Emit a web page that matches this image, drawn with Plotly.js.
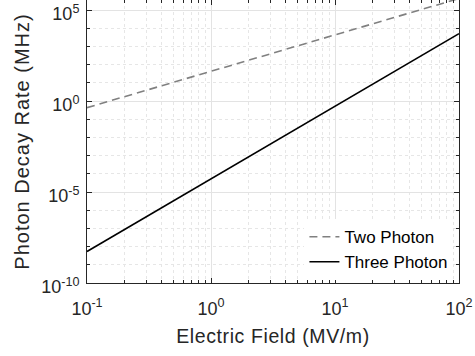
<!DOCTYPE html>
<html>
<head>
<meta charset="utf-8">
<script src="https://cdn.plot.ly/plotly-3.0.1.min.js"></script>
<style>
html,body{margin:0;padding:0;background:#fff;}
#chart{width:475px;height:356px;}
#chart .xtitle{letter-spacing:0.6px;}
#chart .ytitle{letter-spacing:1px;}
</style>
</head>
<body>
<div id="chart"></div>
<script>
// Data (log-log straight lines)
const fieldMVm = [0.1, 1, 10, 100];
const twoPhoton = [0.43, 43, 4300, 430000];
const threePhoton = [5.4e-9, 5.4e-5, 0.54, 5000];
const seriesNames = ['Two Photon', 'Three Photon'];

const xTickVals = [0.1, 1, 10, 100];
const xTickText = ['10<sup>-1</sup>', '10<sup>0</sup>', '10<sup>1</sup>', '10<sup>2</sup>'];
const yTickVals = [1e-10, 1e-5, 1, 1e5];
const yTickText = ['10<sup>-10</sup>', '10<sup>-5</sup>', '10<sup>0</sup>', '10<sup>5</sup>'];

const xMinor = [];
for (let e = -1; e < 2; e++) for (let d = 2; d <= 9; d++) xMinor.push(d * Math.pow(10, e));
const yMinor = [];
for (let e = -10; e <= 5; e++) if (e % 5 !== 0) yMinor.push(Math.pow(10, e));

const fam = 'Liberation Sans, Arial, sans-serif';
const tickFont = {family: fam, size: 18, color: '#262626'};
const xTitleFont = {family: fam, size: 19.5, color: '#262626'};
const yTitleFont = {family: fam, size: 20, color: '#262626'};
const legendFont = {family: fam, size: 17, color: '#000'};
const axisCommon = {
  type: 'log', showline: true, linecolor: '#262626', linewidth: 1, mirror: 'ticks',
  ticks: 'inside', ticklen: 5, tickcolor: '#262626', tickwidth: 1,
  showgrid: true, gridcolor: '#e3e3e3', gridwidth: 1, zeroline: false,
  tickmode: 'array', tickfont: tickFont, ticklabeloverflow: 'allow'
};

const traces = [
  {x: fieldMVm, y: twoPhoton, name: seriesNames[0], mode: 'lines',
   line: {color: '#808080', width: 1.6, dash: '8px,5px'}},
  {x: fieldMVm, y: threePhoton, name: seriesNames[1], mode: 'lines',
   line: {color: '#000000', width: 1.6}}
];

const layout = {
  width: 475, height: 356,
  margin: {l: 87, r: 16, t: 0, b: 73},
  paper_bgcolor: '#fff', plot_bgcolor: '#fff',
  font: tickFont,
  showlegend: true,
  legend: {x: 0.985, y: 0.01, xanchor: 'right', yanchor: 'bottom', bgcolor: '#fff',
           borderwidth: 0, font: legendFont, tracegroupgap: 0},
  xaxis: Object.assign({}, axisCommon, {
    range: [-1, 2], tickvals: xTickVals, ticktext: xTickText, ticklabelstandoff: 9,
    title: {text: 'Electric Field (MV/m)', font: xTitleFont, standoff: 11},
    minor: {tickmode: 'array', tickvals: xMinor, ticks: 'inside', ticklen: 3, tickcolor: '#262626',
            showgrid: true, gridcolor: '#e6e6e6', griddash: 'dot', gridwidth: 1}
  }),
  yaxis: Object.assign({}, axisCommon, {
    range: [-10, 5.55], tickvals: yTickVals, ticktext: yTickText,
    ticklabelstandoff: 3, ticklabelshift: 4,
    title: {text: 'Photon Decay Rate (MHz)', font: yTitleFont, standoff: 6},
    minor: {tickmode: 'array', tickvals: yMinor, ticks: 'inside', ticklen: 3, tickcolor: '#262626',
            showgrid: true, gridcolor: '#e6e6e6', griddash: 'dot', gridwidth: 1}
  })
};

Plotly.newPlot('chart', traces, layout, {displayModeBar: false, staticPlot: true});
</script>
</body>
</html>
